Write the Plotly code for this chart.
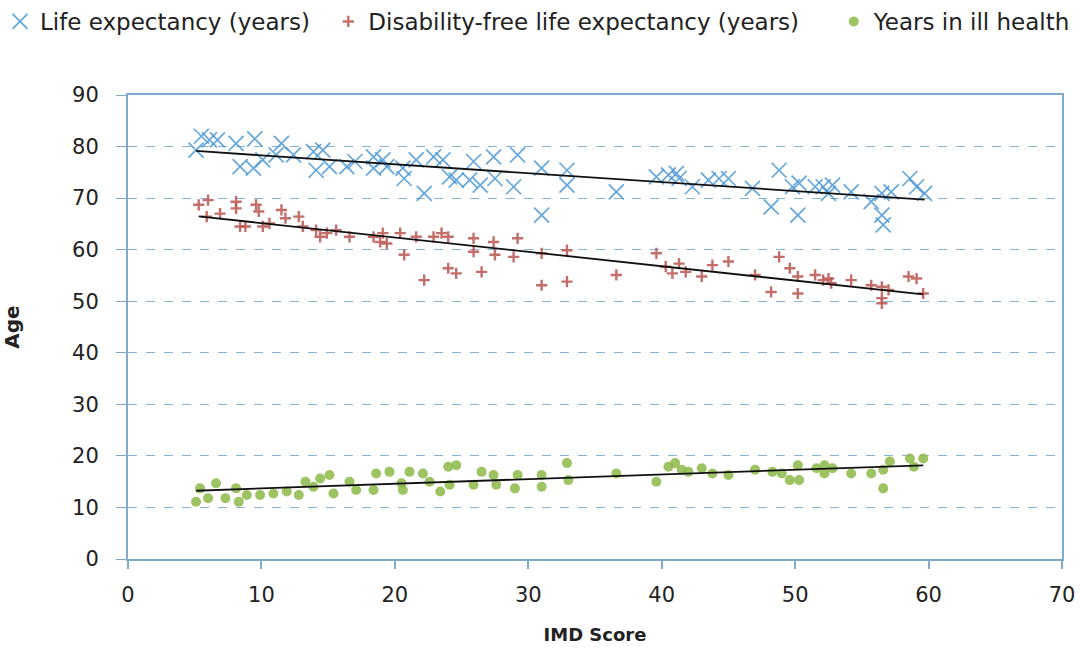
import numpy as np
import plotly.graph_objects as go

# Life expectancy (years)
le_x = [5.5, 6.1, 5.1, 6.7, 8.1, 9.5, 8.4, 9.4, 10.1, 11.5, 11.1, 12.4, 13.9, 14.6, 14.1, 15.1,
        16.4, 17.0, 18.4, 19.1, 18.4, 19.4, 20.6, 20.7, 21.6, 22.9, 23.6, 22.2, 24.1, 24.6, 25.9,
        25.6, 26.4, 27.4, 27.5, 29.2, 28.9, 31.0, 31.0, 32.9, 32.9,
        36.6, 39.6, 40.5, 41.1, 41.3, 42.3, 43.5, 44.3, 45.0, 46.8, 48.2, 48.8, 49.8, 50.3, 50.2,
        51.5, 52.1, 52.5, 52.8, 54.2, 55.7, 56.5, 56.5, 56.6, 57.2, 58.6, 59.1, 59.7]
le_y = [82.0, 81.3, 79.3, 81.3, 80.6, 81.5, 76.1, 75.8, 77.4, 80.6, 78.4, 78.4, 79.0, 79.3, 75.4, 76.1,
        76.1, 77.1, 78.0, 77.4, 75.8, 76.1, 75.8, 73.8, 77.4, 78.0, 77.4, 70.9, 74.1, 73.5, 77.1,
        73.5, 72.5, 78.0, 73.8, 78.4, 72.2, 75.8, 66.7, 75.4, 72.5,
        71.2, 74.1, 74.5, 74.8, 73.8, 72.2, 73.5, 73.8, 73.8, 71.9, 68.3, 75.4, 72.2, 72.9, 66.7,
        72.2, 72.2, 70.9, 72.5, 71.2, 69.3, 70.9, 66.7, 64.8, 71.2, 73.8, 72.2, 70.9]

# Disability-free life expectancy (years)
dfle_x = [5.3, 6.0, 5.9, 6.9, 8.1, 8.1, 8.4, 8.8, 9.6, 9.8, 10.1, 10.6, 11.5, 11.8, 12.8, 13.1,
          14.1, 14.4, 14.9, 15.6, 16.6, 18.4, 18.9, 19.1, 19.4, 20.4, 20.7, 21.6, 22.9, 23.5, 24.0,
          22.2, 24.0, 24.6, 25.9, 25.9, 26.5, 27.4, 27.5, 28.9, 29.2, 31.0, 31.0, 32.9, 32.9,
          36.6, 39.6, 40.3, 40.8, 41.3, 41.8, 43.0, 43.8, 45.0, 47.0, 48.2, 48.8, 49.6, 50.2, 50.2,
          51.5, 52.1, 52.5, 52.7, 54.2, 55.7, 56.5, 56.5, 56.5, 57.0, 58.5, 59.1, 59.6]
dfle_y = [68.7, 69.6, 66.4, 67.0, 69.3, 68.0, 64.5, 64.5, 68.7, 67.4, 64.5, 65.1, 67.7, 66.1, 66.4, 64.5,
          63.8, 62.5, 63.2, 63.8, 62.5, 62.5, 61.5, 63.2, 61.2, 63.2, 59.0, 62.5, 62.5, 63.2, 62.5,
          54.1, 56.4, 55.4, 62.2, 59.6, 55.7, 61.5, 59.0, 58.6, 62.2, 59.3, 53.1, 59.9, 53.8,
          55.1, 59.3, 56.7, 55.4, 57.3, 55.7, 54.8, 57.0, 57.7, 55.1, 51.8, 58.6, 56.4, 54.8, 51.5,
          55.1, 54.1, 54.4, 53.5, 54.1, 53.1, 52.8, 50.6, 49.6, 52.2, 54.8, 54.4, 51.5]

# Years in ill health
ill_x = [5.1, 5.4, 6.0, 6.6, 7.3, 8.1, 8.3, 8.9, 9.9, 10.9, 11.9, 12.8, 13.3, 13.9, 14.4, 15.1,
         15.4, 16.6, 17.1, 18.4, 18.6, 19.6, 20.5, 20.6, 21.1, 22.1, 22.6, 23.4, 24.0, 24.6, 24.1,
         25.9, 26.5, 27.4, 27.6, 29.0, 29.2, 31.0, 31.0, 32.9, 33.0,
         36.6, 39.6, 40.5, 41.0, 41.5, 42.0, 43.0, 43.8, 45.0, 47.0, 48.3, 49.0, 49.6, 50.2, 50.3,
         51.6, 52.2, 52.2, 52.8, 54.2, 55.7, 56.6, 56.6, 57.1, 58.6, 58.9, 59.6]
ill_y = [11.1, 13.7, 11.8, 14.7, 11.8, 13.7, 11.1, 12.4, 12.4, 12.7, 13.1, 12.4, 15.0, 14.0, 15.6, 16.3,
         12.7, 15.0, 13.4, 13.4, 16.6, 16.9, 14.7, 13.4, 16.9, 16.6, 15.0, 13.1, 17.9, 18.2, 14.4,
         14.4, 16.9, 16.3, 14.4, 13.7, 16.3, 16.3, 14.0, 18.6, 15.3,
         16.6, 15.0, 17.9, 18.6, 17.3, 16.9, 17.6, 16.6, 16.3, 17.3, 16.9, 16.6, 15.3, 18.2, 15.3,
         17.6, 18.2, 16.6, 17.6, 16.6, 16.6, 13.7, 17.3, 18.9, 19.5, 17.9, 19.5]

series_names = ["Life expectancy (years)", "Disability-free life expectancy (years)", "Years in ill health"]
x_ticks = [0, 10, 20, 30, 40, 50, 60, 70]
y_ticks = [0, 10, 20, 30, 40, 50, 60, 70, 80, 90]

AX = "#7eaacb"
GRID = "#86b4d6"
TXT = "#222222"

fig = go.Figure()
fig.add_trace(go.Scatter(x=le_x, y=le_y, mode="markers", name=series_names[0], legend="legend",
                         marker=dict(symbol="x-thin", size=15, color="rgba(0,0,0,0)",
                                     line=dict(color="rgba(74,150,214,0.85)", width=1.7))))
fig.add_trace(go.Scatter(x=dfle_x, y=dfle_y, mode="markers", name=series_names[1], legend="legend2",
                         marker=dict(symbol="cross-thin", size=8, color="rgba(0,0,0,0)",
                                     line=dict(color="rgba(185,85,80,0.85)", width=2.4))))
fig.add_trace(go.Scatter(x=ill_x, y=ill_y, mode="markers", name=series_names[2], legend="legend3",
                         marker=dict(symbol="circle", size=10, color="rgba(140,185,70,0.85)",
                                     line=dict(width=0))))

for xs, ys in [(le_x, le_y), (dfle_x, dfle_y), (ill_x, ill_y)]:
    xs = np.array(xs); ys = np.array(ys)
    k, b = np.polyfit(xs, ys, 1)
    xe = np.array([xs.min(), xs.max()])
    fig.add_trace(go.Scatter(x=xe, y=k * xe + b, mode="lines", showlegend=False,
                             line=dict(color="#111111", width=1.8), hoverinfo="skip"))

leg_common = dict(orientation="h", y=1.0, xref="container", yref="container",
                  xanchor="left", yanchor="top", bgcolor="rgba(0,0,0,0)",
                  font=dict(family="DejaVu Sans", size=23, color=TXT), itemwidth=30,
                  itemsizing="trace")

fig.update_layout(
    width=1080, height=649,
    margin=dict(l=128, r=18, t=95, b=90, autoexpand=False),
    paper_bgcolor="white", plot_bgcolor="white",
    font=dict(family="DejaVu Sans", size=21, color=TXT),
    legend=dict(x=0.0, **leg_common),
    legend2=dict(x=0.304, **leg_common),
    legend3=dict(x=0.772, **leg_common),
    showlegend=True,
)
fig.update_xaxes(range=[0, 70], tickvals=x_ticks, showgrid=False, zeroline=False,
                 showline=True, linecolor=AX, linewidth=2, mirror=True, automargin=False,
                 ticks="outside", ticklen=8, tickcolor=AX, tickwidth=2,
                 tickfont=dict(size=21, color=TXT), ticklabelstandoff=8,
                 title=dict(text="<b>IMD Score</b>", font=dict(size=18, color=TXT), standoff=22))
fig.update_yaxes(range=[0, 90], tickvals=y_ticks, showgrid=True, gridcolor=GRID, griddash="dash",
                 gridwidth=1, zeroline=False, automargin=False,
                 showline=True, linecolor=AX, linewidth=2, mirror=True,
                 ticks="outside", ticklen=10, tickcolor=AX, tickwidth=1,
                 tickfont=dict(size=21, color=TXT), ticklabelstandoff=13,
                 title=dict(text="<b>Age</b>", font=dict(size=20, color=TXT), standoff=48))

fig.write_html("out.html")
